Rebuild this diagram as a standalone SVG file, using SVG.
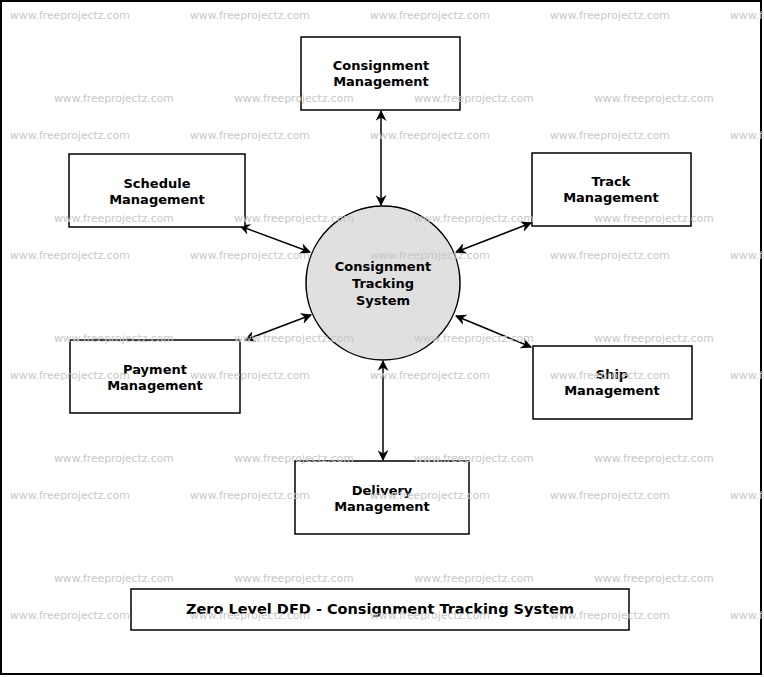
<svg xmlns="http://www.w3.org/2000/svg" width="764" height="677" viewBox="0 0 764 677">
<style>
.wm{font-family:"DejaVu Sans",sans-serif;font-size:10.8px;fill:#c8c8c8}
.n{fill:#fff;stroke:#000;stroke-width:1.5}
.t{font-family:"DejaVu Sans",sans-serif;font-size:13px;font-weight:bold;text-anchor:middle;fill:#000}
.c{stroke:#000;stroke-width:1.5;fill:none;marker-start:url(#a);marker-end:url(#a)}
</style>
<defs>
<marker id="a" viewBox="0 0 10 10" refX="9" refY="5" markerWidth="12" markerHeight="11" orient="auto-start-reverse" markerUnits="userSpaceOnUse"><path d="M0,0 L10,5 L0,10 L3,5 z" fill="#000"/></marker>
</defs>
<rect x="0" y="0" width="764" height="677" fill="#fff"/>
<rect x="1" y="1" width="760" height="673" fill="none" stroke="#000" stroke-width="2"/>
<g id="connectors">
<line class="c" x1="381" y1="111" x2="381" y2="205"/>
<line class="c" x1="240" y1="226" x2="310" y2="252"/>
<line class="c" x1="531" y1="223" x2="456" y2="252"/>
<line class="c" x1="245" y1="340" x2="311" y2="315"/>
<line class="c" x1="531" y1="347" x2="456" y2="316"/>
<line class="c" x1="383" y1="361" x2="383" y2="460"/>
</g>
<g id="center"><circle cx="383" cy="283" r="77" fill="#e0e0e0" stroke="#000" stroke-width="1.5"/>
<text class="t" x="383" y="271">Consignment</text><text class="t" x="383" y="288">Tracking</text><text class="t" x="383" y="305">System</text></g>
<g id="consignment"><rect class="n" x="301" y="37" width="159" height="73"/><text class="t" x="381" y="70">Consignment</text><text class="t" x="381" y="86">Management</text></g>
<g id="schedule"><rect class="n" x="69" y="154" width="176" height="73"/><text class="t" x="157" y="188">Schedule</text><text class="t" x="157" y="204">Management</text></g>
<g id="track"><rect class="n" x="532" y="153" width="159" height="73"/><text class="t" x="611" y="186">Track</text><text class="t" x="611" y="202">Management</text></g>
<g id="payment"><rect class="n" x="70" y="340" width="170" height="73"/><text class="t" x="155" y="374">Payment</text><text class="t" x="155" y="390">Management</text></g>
<g id="ship"><rect class="n" x="533" y="346" width="159" height="73"/><text class="t" x="612" y="379">Ship</text><text class="t" x="612" y="395">Management</text></g>
<g id="delivery"><rect class="n" x="295" y="461" width="174" height="73"/><text class="t" x="382" y="495">Delivery</text><text class="t" x="382" y="511">Management</text></g>
<g id="title"><rect class="n" x="131" y="589" width="498" height="41"/><text class="t" x="380" y="614" style="font-size:14.5px">Zero Level DFD - Consignment Tracking System</text></g>
<g id="watermarks">
<text class="wm" x="10" y="19">www.freeprojectz.com</text><text class="wm" x="190" y="19">www.freeprojectz.com</text><text class="wm" x="370" y="19">www.freeprojectz.com</text><text class="wm" x="550" y="19">www.freeprojectz.com</text><text class="wm" x="730" y="19">www.freeprojectz.com</text>
<text class="wm" x="54" y="102">www.freeprojectz.com</text><text class="wm" x="234" y="102">www.freeprojectz.com</text><text class="wm" x="414" y="102">www.freeprojectz.com</text><text class="wm" x="594" y="102">www.freeprojectz.com</text>
<text class="wm" x="10" y="139">www.freeprojectz.com</text><text class="wm" x="190" y="139">www.freeprojectz.com</text><text class="wm" x="370" y="139">www.freeprojectz.com</text><text class="wm" x="550" y="139">www.freeprojectz.com</text><text class="wm" x="730" y="139">www.freeprojectz.com</text>
<text class="wm" x="54" y="222">www.freeprojectz.com</text><text class="wm" x="234" y="222">www.freeprojectz.com</text><text class="wm" x="414" y="222">www.freeprojectz.com</text><text class="wm" x="594" y="222">www.freeprojectz.com</text>
<text class="wm" x="10" y="259">www.freeprojectz.com</text><text class="wm" x="190" y="259">www.freeprojectz.com</text><text class="wm" x="370" y="259">www.freeprojectz.com</text><text class="wm" x="550" y="259">www.freeprojectz.com</text><text class="wm" x="730" y="259">www.freeprojectz.com</text>
<text class="wm" x="54" y="342">www.freeprojectz.com</text><text class="wm" x="234" y="342">www.freeprojectz.com</text><text class="wm" x="414" y="342">www.freeprojectz.com</text><text class="wm" x="594" y="342">www.freeprojectz.com</text>
<text class="wm" x="10" y="379">www.freeprojectz.com</text><text class="wm" x="190" y="379">www.freeprojectz.com</text><text class="wm" x="370" y="379">www.freeprojectz.com</text><text class="wm" x="550" y="379">www.freeprojectz.com</text><text class="wm" x="730" y="379">www.freeprojectz.com</text>
<text class="wm" x="54" y="462">www.freeprojectz.com</text><text class="wm" x="234" y="462">www.freeprojectz.com</text><text class="wm" x="414" y="462">www.freeprojectz.com</text><text class="wm" x="594" y="462">www.freeprojectz.com</text>
<text class="wm" x="10" y="499">www.freeprojectz.com</text><text class="wm" x="190" y="499">www.freeprojectz.com</text><text class="wm" x="370" y="499">www.freeprojectz.com</text><text class="wm" x="550" y="499">www.freeprojectz.com</text><text class="wm" x="730" y="499">www.freeprojectz.com</text>
<text class="wm" x="54" y="582">www.freeprojectz.com</text><text class="wm" x="234" y="582">www.freeprojectz.com</text><text class="wm" x="414" y="582">www.freeprojectz.com</text><text class="wm" x="594" y="582">www.freeprojectz.com</text>
<text class="wm" x="10" y="619">www.freeprojectz.com</text><text class="wm" x="190" y="619">www.freeprojectz.com</text><text class="wm" x="370" y="619">www.freeprojectz.com</text><text class="wm" x="550" y="619">www.freeprojectz.com</text><text class="wm" x="730" y="619">www.freeprojectz.com</text>
</g>
</svg>
